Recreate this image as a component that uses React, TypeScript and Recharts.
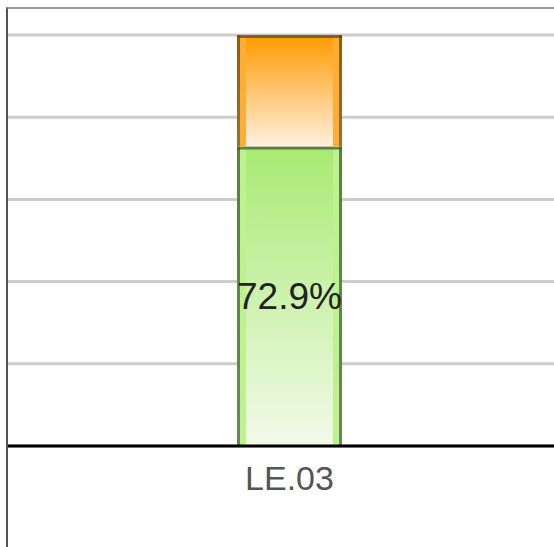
import React from 'react';
import { BarChart, Bar, XAxis, YAxis, CartesianGrid, LabelList } from 'recharts';

const categories = ['LE.03'];
const passValues = [72.9];
const failValues = [27.1];
const yTicks = [0, 20, 40, 60, 80, 100];

const data = categories.map((name, i) => ({
  name,
  pass: passValues[i],
  fail: failValues[i],
}));

const STYLES = {
  pass: { id: 'gradPass', stripe: '#bdf28e', border: 'rgba(60, 95, 40, 0.75)' },
  fail: { id: 'gradFail', stripe: '#ffae35', border: 'rgba(110, 70, 10, 0.75)' },
};

function glassShape(c: { id: string; stripe: string; border: string }) {
  return (props: any) => {
    const { x, y, width: w, height: h } = props;
    if (!w || !h) return <g />;
    return (
      <g>
        <rect x={x} y={y} width={w} height={h} fill={`url(#${c.id})`} />
        <rect x={x + 3} y={y} width={6} height={h} fill={c.stripe} />
        <rect x={x + w - 9} y={y} width={6} height={h} fill={c.stripe} />
        <line x1={x + 1.5} y1={y} x2={x + 1.5} y2={y + h} stroke={c.border} strokeWidth={3} />
        <line x1={x + w - 1.5} y1={y} x2={x + w - 1.5} y2={y + h} stroke={c.border} strokeWidth={3} />
        <line x1={x} y1={y + 1.5} x2={x + w} y2={y + 1.5} stroke={c.border} strokeWidth={3} />
      </g>
    );
  };
}

export default function App() {
  return (
    <div
      style={{
        position: 'fixed',
        left: 6,
        top: 7,
        width: 548,
        height: 540,
        boxSizing: 'border-box',
        borderLeft: '2px solid #555',
        borderTop: '2px solid #999',
        overflow: 'hidden',
        background: '#fff',
        fontFamily: '"Liberation Sans", Arial, sans-serif',
      }}
    >
      <BarChart
        width={563}
        height={531}
        data={data}
        margin={{ top: 26, right: 0, left: 0, bottom: 0 }}
      >
        <defs>
          <linearGradient id="gradPass" x1="0" y1="0" x2="0" y2="1">
            <stop offset="0%" stopColor="#a8ea72" />
            <stop offset="100%" stopColor="#f2faea" />
          </linearGradient>
          <linearGradient id="gradFail" x1="0" y1="0" x2="0" y2="1">
            <stop offset="0%" stopColor="#ff9a00" />
            <stop offset="100%" stopColor="#fff0e0" />
          </linearGradient>
        </defs>
        <CartesianGrid vertical={false} stroke="#cccccc" strokeWidth={3} />
        <YAxis hide domain={[0, 100]} ticks={yTicks} />
        <XAxis
          dataKey="name"
          height={94}
          tickLine={false}
          axisLine={{ stroke: '#000', strokeWidth: 3 }}
          tickMargin={14}
          tick={{ fill: '#555', fontSize: 34 }}
        />
        <Bar
          dataKey="pass"
          stackId="a"
          barSize={105}
          isAnimationActive={false}
          shape={glassShape(STYLES.pass)}
        >
          <LabelList
            dataKey="pass"
            position="center"
            fill="#222"
            fontSize={37}
            formatter={(v: any) => `${Number(v).toFixed(1)}%`}
          />
        </Bar>
        <Bar
          dataKey="fail"
          stackId="a"
          barSize={105}
          isAnimationActive={false}
          shape={glassShape(STYLES.fail)}
        />
      </BarChart>
    </div>
  );
}
